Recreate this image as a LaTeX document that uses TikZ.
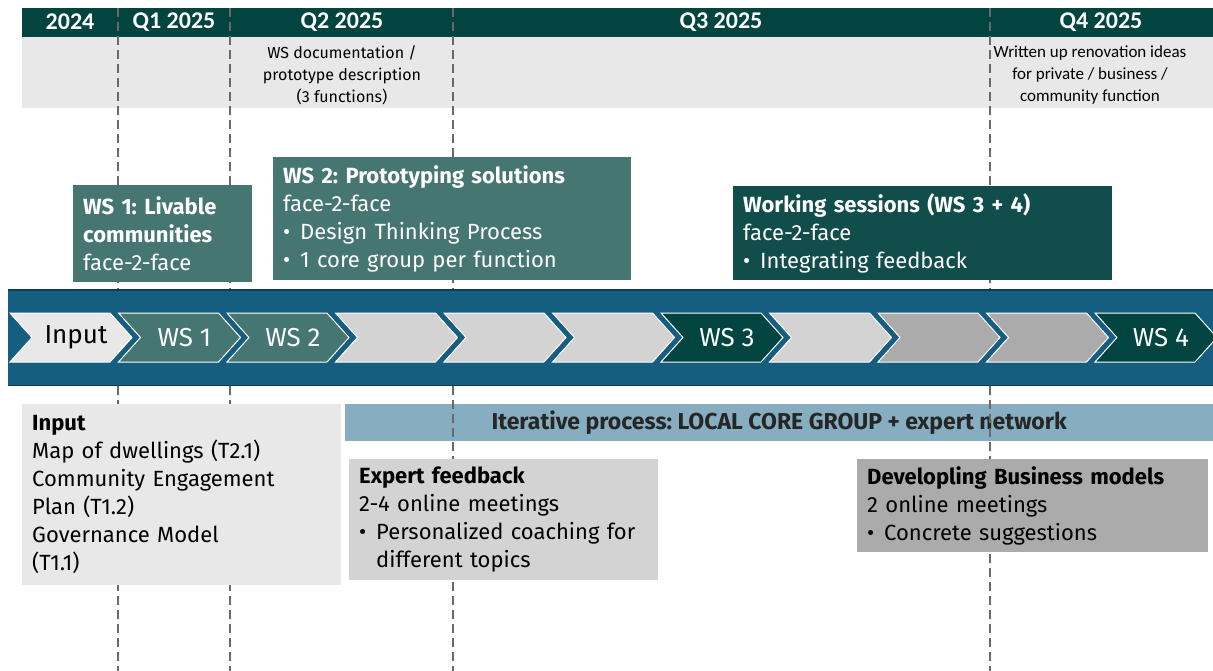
\documentclass[tikz,border=0pt]{standalone}
\usepackage{fontspec}
\setmainfont{Fira Sans}
\newfontfamily\narrowfont{Carlito}
\usetikzlibrary{positioning}
\definecolor{tlheader}{RGB}{2,69,64}
\definecolor{tlteal}{RGB}{70,118,114}
\definecolor{tldark}{RGB}{17,77,75}
\definecolor{tlblue}{RGB}{22,94,128}
\definecolor{tlbluedark}{RGB}{12,62,85}
\definecolor{tlband}{RGB}{135,174,192}
\definecolor{tllight}{RGB}{232,232,232}
\definecolor{tlmid}{RGB}{211,211,211}
\definecolor{tlgray}{RGB}{171,171,171}
\definecolor{tldash}{RGB}{105,105,105}
\newcommand{\tlbullet}{\makebox[17pt][l]{\textbullet}}
\frenchspacing

\tikzset{
  sepline/.style={tldash, line width=2pt, dash pattern=on 9pt off 5pt},
  hdrlabel/.style={text=white, font=\narrowfont\bfseries\fontsize{24}{28}\selectfont},
  hdrnote/.style={align=center, font=\fontsize{16}{22}\selectfont},
  infobox/.style={anchor=north west, align=left, inner xsep=10pt, inner ysep=0pt,
    font=\fontsize{22}{28}\selectfont},
  chevron/.style={draw=white, line width=1pt},
  chevlabel/.style={font=\fontsize{26}{30}\selectfont},
}

\begin{document}
\begin{tikzpicture}[x=1pt,y=-1pt]
  \useasboundingbox (0,0) rectangle (1213,671);
  % Quarter header: grey note band and dark title bar
  \fill[tllight] (22,37) rectangle (1213,108);
  \fill[tlheader] (22,8) rectangle (1213,37);
  % Iterative process band
  \node[anchor=north west, fill=tlband, minimum width=868, minimum height=37, inner sep=0pt,
    font=\bfseries\fontsize{23}{26}\selectfont, text=black!85] (iter) at (345,404)
    {Iterative process: LOCAL CORE GROUP + expert network};
  % Quarter separators
  \foreach \x [count=\k] in {118,230,453,990} {
    \coordinate (sep\k a) at (\x,8);
    \coordinate (sep\k b) at (\x,671);
    \draw[sepline] (sep\k a) -- (sep\k b);
  }
  % Quarter titles
  \node[hdrlabel] (y2024) at (70,22) {2024};
  \node[hdrlabel] (q1) at (174,22) {Q1 2025};
  \node[hdrlabel] (q2) at (342,22) {Q2 2025};
  \node[hdrlabel] (q3) at (721,22) {Q3 2025};
  \node[hdrlabel] (q4) at (1101,22) {Q4 2025};
  \node[hdrnote] (q2note) at (342,75) {WS documentation /\\prototype description\\(3 functions)};
  \node[hdrnote, font=\narrowfont\fontsize{17}{22}\selectfont] (q4note) at (1090,75)
    {Written up renovation ideas\\for private / business /\\community function};
  %
  % Workshop boxes above the timeline
  \node[infobox, fill=tlteal, text=white, text width=159, minimum height=97] (ws1box) at (73,185)
    {\textbf{WS 1: Livable}\\\textbf{communities}\\face-2-face};
  \node[infobox, fill=tlteal, text=white, text width=338, minimum height=123] (ws2box) at (273,157)
    {\textbf{WS 2: Prototyping solutions}\\face-2-face\\\tlbullet Design Thinking Process\\\tlbullet 1 core group per function};
  \node[infobox, fill=tldark, text=white, text width=359, minimum height=94] (ws34box) at (733,186)
    {\textbf{Working sessions (WS 3 + 4)}\\face-2-face\\\tlbullet Integrating feedback};
  %
  % Timeline band with chevrons
  \fill[tlblue] (8,290) rectangle (1220,385);
  \draw[tlbluedark, line width=1.5pt] (8,290) -- (1220,290);
  \draw[tlbluedark, line width=1pt] (8,385) -- (1220,385);
  \foreach \lab/\fc/\tc [count=\i from 0] in {Input/tllight/black, WS 1/tlteal/white, WS 2/tlteal/white,
      /tlmid/black, /tlmid/black, /tlmid/black, WS 3/tlheader/white, /tlmid/black,
      /tlgray/black, /tlgray/black, WS 4/tlheader/white} {
    \pgfmathsetmacro\xa{10+108.5*\i}
    \draw[chevron, fill=\fc] (\xa,313) -- ++(100,0) -- ++(22,24.5) -- ++(-22,24.5)
      -- ++(-100,0) -- ++(22,-24.5) -- cycle;
    \node[chevlabel, text=\tc] (chev\i) at (\xa+66,337.5) {\lab};
  }
  %
  % Boxes below the timeline
  \node[infobox, fill=tllight, text width=299, minimum height=181] (inputbox) at (22,404)
    {\textbf{Input}\\Map of dwellings (T2.1)\\Community Engagement\\Plan (T1.2)\\Governance Model\\(T1.1)};
  \node[infobox, fill=tlmid, text width=289, minimum height=121] (expertbox) at (349,459)
    {\textbf{Expert feedback}\\2-4 online meetings\\\tlbullet Personalized coaching for\\\hspace*{17pt}different topics};
  \node[infobox, fill=tlgray, text width=331, minimum height=93] (bizbox) at (857,459)
    {\textbf{Developling Business models}\\2 online meetings\\\tlbullet Concrete suggestions};
\end{tikzpicture}
\end{document}
